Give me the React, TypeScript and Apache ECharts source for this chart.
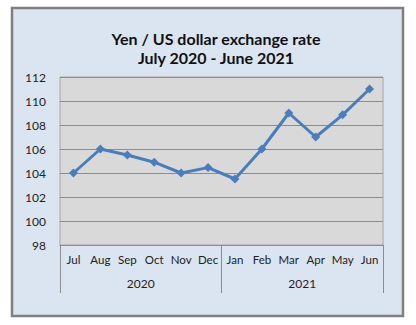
import React, { useEffect, useRef } from "react";
import * as echarts from "echarts";

const months = ["Jul", "Aug", "Sep", "Oct", "Nov", "Dec", "Jan", "Feb", "Mar", "Apr", "May", "Jun"];
const years = ["2020", "2021"];
const rates = [104, 106, 105.5, 104.9, 104, 104.45, 103.5, 106, 109, 107, 108.85, 111];
const yMin = 98;
const yMax = 112;
const yStep = 2;

export default function App() {
  const ref = useRef<HTMLDivElement>(null);
  useEffect(() => {
    document.body.style.margin = "0";
    const chart = echarts.init(ref.current!, null, { renderer: "svg" });
    const font = "Lato, 'Open Sans', sans-serif";
    chart.setOption({
      animation: false,
      backgroundColor: "#ffffff",
      graphic: [
        {
          type: "rect",
          shape: { x: 12, y: 8, width: 391, height: 308 },
          style: { fill: "#dbe5f1", stroke: "#7f7f7f", lineWidth: 2.5 },
          z: -10,
        },
      ],
      title: {
        text: "Yen / US dollar exchange rate\nJuly 2020 - June 2021",
        left: 211,
        top: 24,
        textAlign: "center",
        textStyle: { fontFamily: font, fontWeight: "bold", fontSize: 16, lineHeight: 19, color: "#111" },
      },
      grid: {
        left: 60,
        right: 33,
        top: 77,
        bottom: 80,
        show: true,
        backgroundColor: "#d9d9d9",
        borderColor: "#a6a6a6",
        borderWidth: 1,
      },
      xAxis: [
        {
          type: "category",
          data: months,
          boundaryGap: true,
          axisLine: { show: true, lineStyle: { color: "#8c8c8c", width: 1 } },
          axisTick: { show: false },
          axisLabel: { margin: 8, fontSize: 11.5, color: "#222", fontFamily: font, interval: 0 },
        },
        {
          type: "category",
          data: years,
          position: "bottom",
          boundaryGap: true,
          axisLine: { show: false },
          axisTick: { show: true, length: 48, lineStyle: { color: "#8c8c8c", width: 1 } },
          axisLabel: { margin: 32, fontSize: 12, color: "#222", fontFamily: font },
        },
      ],
      yAxis: {
        type: "value",
        min: yMin,
        max: yMax,
        interval: yStep,
        axisLine: { show: false },
        axisTick: { show: false },
        axisLabel: { margin: 14, fontSize: 12, color: "#222", fontFamily: font },
        splitLine: { lineStyle: { color: "#8c8c8c", width: 1 } },
      },
      series: [
        {
          type: "line",
          xAxisIndex: 0,
          data: rates,
          symbol: "diamond",
          symbolSize: 9,
          lineStyle: { color: "#4a7ebb", width: 3 },
          itemStyle: { color: "#4a7ebb" },
        },
      ],
    });
    return () => chart.dispose();
  }, []);
  return <div ref={ref} style={{ width: 416, height: 325 }} />;
}
